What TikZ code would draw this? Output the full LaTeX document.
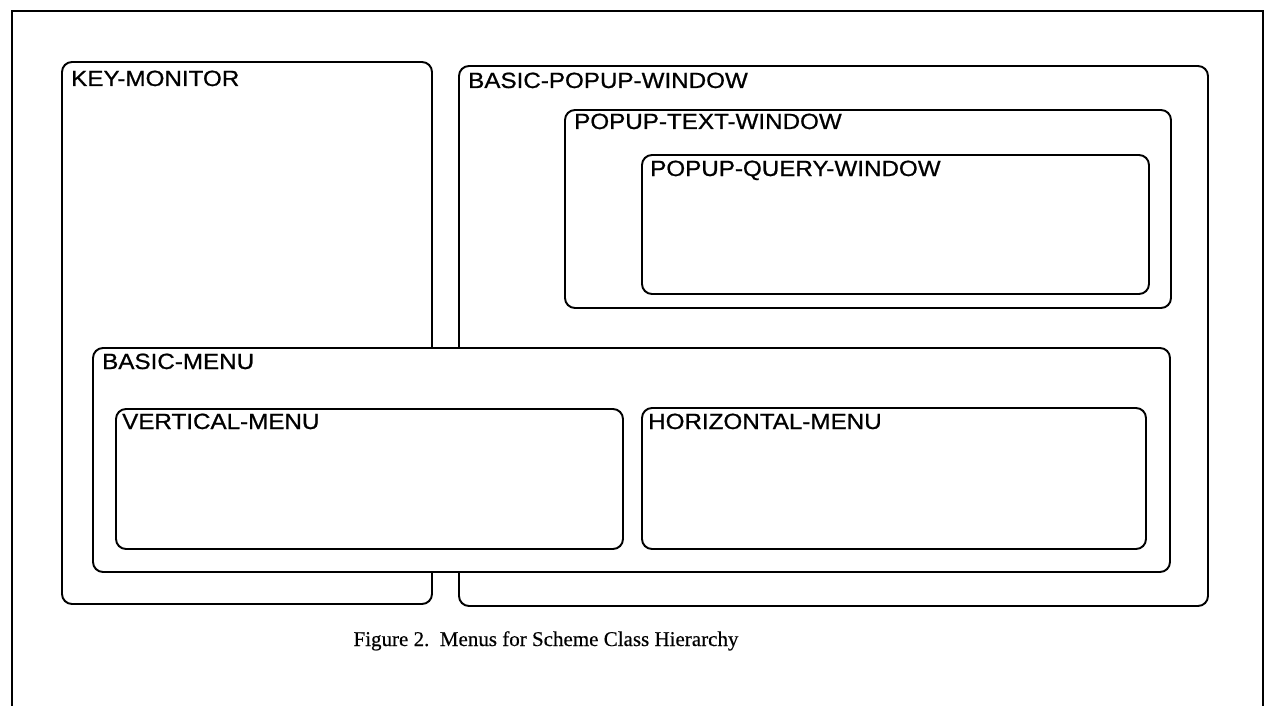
\documentclass[tikz,border=0pt]{standalone}
\usepackage{fontspec}
\newfontfamily\labfont[FakeStretch=1.1,FakeBold=0.8]{Liberation Sans}
\newfontfamily\capfont[FakeBold=0.4]{Liberation Serif}
\begin{document}
\begin{tikzpicture}[x=1pt,y=-1pt,
  box/.style={draw=black, line width=1.9pt, rounded corners=10pt, fill=white,
    anchor=north west, inner sep=0pt, outer sep=0pt},
  lab/.style={anchor=base west, inner sep=0pt, font=\labfont\fontsize{22}{26}\selectfont},
  frameline/.style={draw=black, line width=1.6pt}]
\useasboundingbox (0,0) rectangle (1269,706);
\fill[white] (0,0) rectangle (1269,706);
% outer frame (open at the bottom)
\coordinate (fbl) at (12,706);
\coordinate (ftl) at (12,11);
\coordinate (ftr) at (1263,11);
\coordinate (fbr) at (1263,706);
\draw[frameline] (fbl) -- (ftl) -- (ftr) -- (fbr);
% boxes
\node[box, minimum width=370pt, minimum height=542pt] (km) at (62,62) {};
\node[box, minimum width=749pt, minimum height=540pt] (bpw) at (459,66) {};
\node[box, minimum width=606pt, minimum height=198pt] (ptw) at (565,110) {};
\node[box, minimum width=507pt, minimum height=139pt] (pqw) at (642,155) {};
\node[box, minimum width=1077pt, minimum height=224pt] (bm) at (93,348) {};
\node[box, minimum width=507pt, minimum height=140pt] (vm) at (116,409) {};
\node[box, minimum width=504pt, minimum height=141pt] (hm) at (642,408) {};
% labels
\node[lab] (kmL) at ([xshift=9pt,yshift=-24pt]km.north west) {KEY-MONITOR};
\node[lab] (bpwL) at ([xshift=9pt,yshift=-22pt]bpw.north west) {BASIC-POPUP-WINDOW};
\node[lab] (ptwL) at ([xshift=9pt,yshift=-19pt]ptw.north west) {POPUP-TEXT-WINDOW};
\node[lab] (pqwL) at ([xshift=8pt,yshift=-21pt]pqw.north west) {POPUP-QUERY-WINDOW};
\node[lab] (bmL) at ([xshift=9pt,yshift=-21pt]bm.north west) {BASIC-MENU};
\node[lab] (vmL) at ([xshift=6pt,yshift=-20pt]vm.north west) {VERTICAL-MENU};
\node[lab] (hmL) at ([xshift=6pt,yshift=-21pt]hm.north west) {HORIZONTAL-MENU};
% caption
\node[anchor=base, inner sep=0pt, font=\capfont\fontsize{21}{25}\selectfont] (cap) at (546,646) {Figure 2.\ \ Menus for Scheme Class Hierarchy};
\end{tikzpicture}
\end{document}
